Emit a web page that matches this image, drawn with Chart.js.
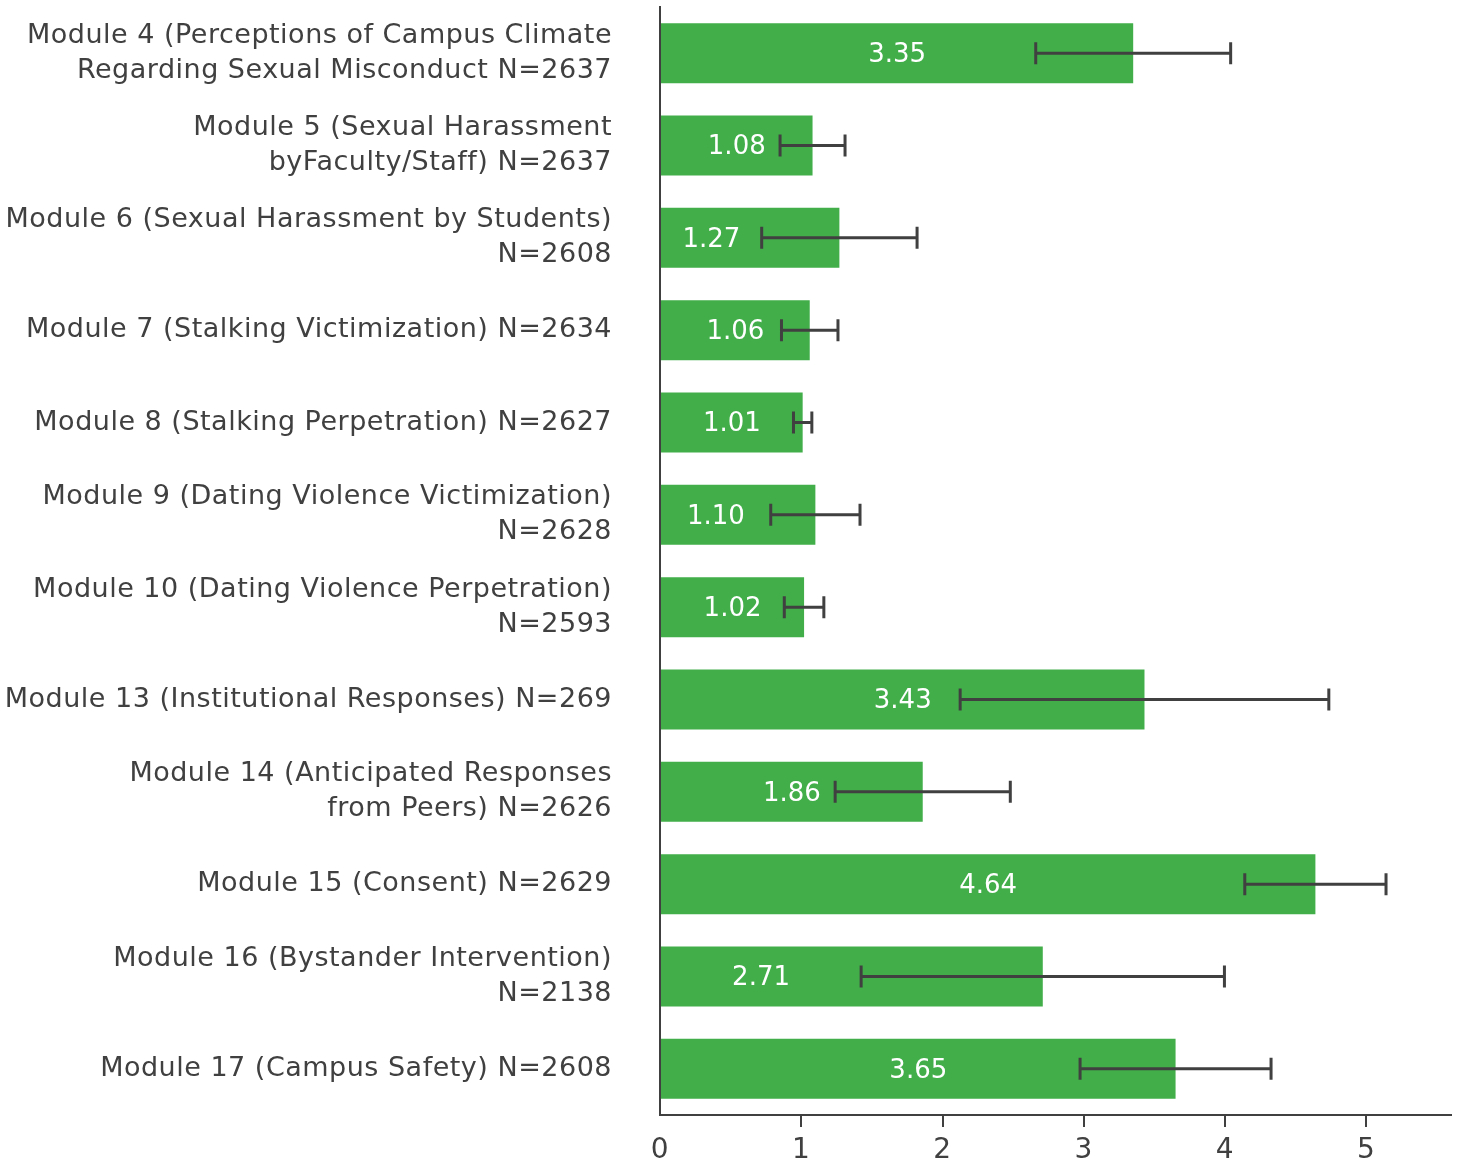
<!DOCTYPE html>
<html>
<head>
<meta charset="utf-8">
<style>
html,body{margin:0;padding:0;background:#ffffff;}
#wrap{width:1460px;height:1164px;position:relative;}
</style>
<script src="https://cdn.jsdelivr.net/npm/chart.js@4.4.0/dist/chart.umd.min.js"></script>
</head>
<body>
<div id="wrap"><canvas id="c"></canvas></div>
<script>
const categories = [
  ["Module 4 (Perceptions of Campus Climate", "Regarding Sexual Misconduct N=2637"],
  ["Module 5 (Sexual Harassment", "byFaculty/Staff) N=2637"],
  ["Module 6 (Sexual Harassment by Students)", "N=2608"],
  "Module 7 (Stalking Victimization) N=2634",
  "Module 8 (Stalking Perpetration) N=2627",
  ["Module 9 (Dating Violence Victimization)", "N=2628"],
  ["Module 10 (Dating Violence Perpetration)", "N=2593"],
  "Module 13 (Institutional Responses) N=269",
  ["Module 14 (Anticipated Responses", "from Peers) N=2626"],
  "Module 15 (Consent) N=2629",
  ["Module 16 (Bystander Intervention)", "N=2138"],
  "Module 17 (Campus Safety) N=2608"
];
const means = [3.35, 1.08, 1.27, 1.06, 1.01, 1.10, 1.02, 3.43, 1.86, 4.64, 2.71, 3.65];
const errors = [0.69, 0.23, 0.55, 0.20, 0.065, 0.316, 0.14, 1.305, 0.62, 0.50, 1.286, 0.676];
const xTicks = [0, 1, 2, 3, 4, 5];

const FONT = '"DejaVu Sans", sans-serif';
const TEXT = '#404040';
const GREEN = '#41ae4a';

const spacing = {
  id: 'spacing',
  beforeDraw(chart) { chart.ctx.letterSpacing = '0.5px'; }
};

const overlay = {
  id: 'overlay',
  afterDatasetsDraw(chart) {
    const meta = chart.getDatasetMeta(0);
    const xs = chart.scales.x;
    const ctx = chart.ctx;
    ctx.save();
    ctx.letterSpacing = '0px';
    ctx.font = '26px ' + FONT;
    ctx.fillStyle = '#ffffff';
    ctx.textAlign = 'center';
    ctx.textBaseline = 'middle';
    meta.data.forEach((bar, i) => {
      const txt = means[i].toFixed(2);
      const w = ctx.measureText(txt).width;
      const lo = xs.getPixelForValue(means[i] - errors[i]);
      let cx = (bar.base + bar.x) / 2;
      if (cx + w / 2 + 10 > lo) cx = (bar.base + lo) / 2;
      ctx.fillText(txt, cx, bar.y + 2);
    });
    ctx.strokeStyle = '#404040';
    ctx.lineWidth = 3;
    meta.data.forEach((bar, i) => {
      const lo = xs.getPixelForValue(means[i] - errors[i]);
      const hi = xs.getPixelForValue(means[i] + errors[i]);
      const y = bar.y;
      ctx.beginPath();
      ctx.moveTo(lo, y); ctx.lineTo(hi, y);
      ctx.moveTo(lo, y - 11); ctx.lineTo(lo, y + 11);
      ctx.moveTo(hi, y - 11); ctx.lineTo(hi, y + 11);
      ctx.stroke();
    });
    ctx.restore();
  }
};

new Chart(document.getElementById('c'), {
  type: 'bar',
  data: {
    labels: categories,
    datasets: [{
      data: means,
      backgroundColor: GREEN,
      borderWidth: 0,
      barPercentage: 0.65,
      categoryPercentage: 1.0
    }]
  },
  options: {
    indexAxis: 'y',
    responsive: true,
    maintainAspectRatio: false,
    animation: false,
    devicePixelRatio: 1,
    layout: { padding: { top: 7, right: 9, left: 0, bottom: 0 } },
    plugins: { legend: { display: false }, tooltip: { enabled: false } },
    scales: {
      x: {
        min: 0,
        max: 5.6,
        afterBuildTicks(scale) { scale.ticks = xTicks.map(v => ({ value: v })); },
        afterFit(scale) {
          scale.height = 49;
          scale.paddingLeft = 0; scale.paddingRight = 0;
          scale.paddingTop = 0; scale.paddingBottom = 0;
        },
        grid: {
          drawOnChartArea: false,
          drawTicks: true,
          tickLength: 12,
          lineWidth: 2,
          color: (c) => (c.tick && c.tick.value === 0) ? 'rgba(0,0,0,0)' : '#404040'
        },
        border: { display: true, color: '#404040', width: 2 },
        ticks: {
          color: TEXT,
          padding: 7,
          font: { family: FONT, size: 28 },
          maxRotation: 0
        }
      },
      y: {
        afterFit(scale) {
          scale.width = 660;
          scale.paddingLeft = 0; scale.paddingRight = 0;
          scale.paddingTop = 0; scale.paddingBottom = 0;
        },
        grid: { display: false, drawTicks: false },
        border: { display: true, color: '#404040', width: 2 },
        ticks: {
          color: TEXT,
          padding: 48,
          font: { family: FONT, size: 27, lineHeight: 1.3 },
          autoSkip: false
        }
      }
    }
  },
  plugins: [spacing, overlay]
});
</script>
</body>
</html>
